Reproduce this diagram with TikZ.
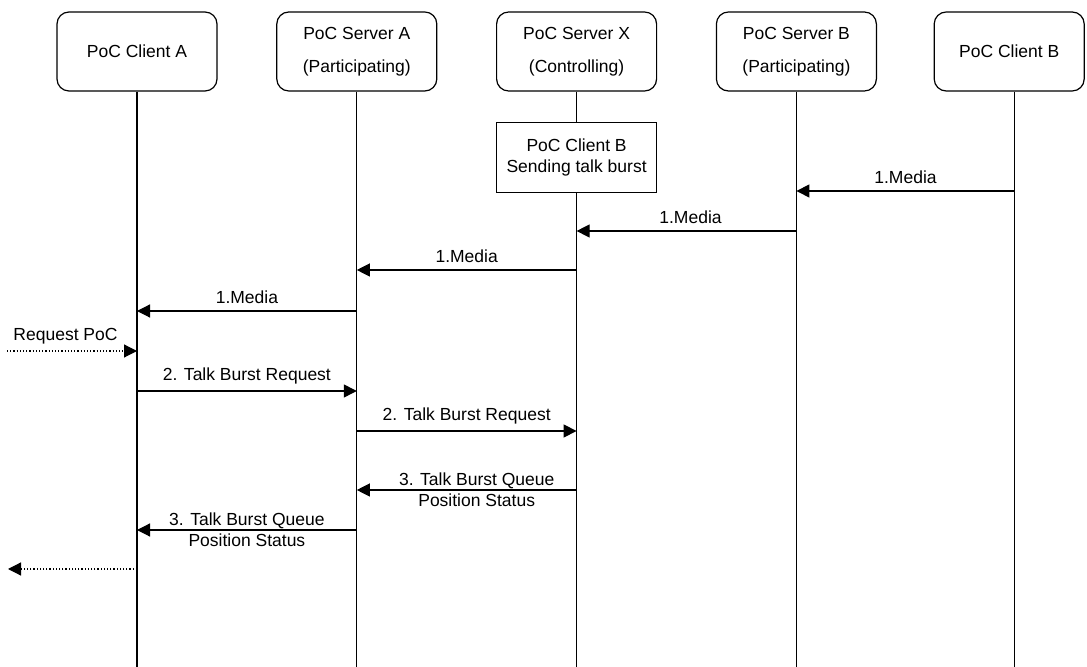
\documentclass[tikz,border=0pt]{standalone}
\usepackage{fontspec}
\setmainfont{Liberation Sans}
\usepackage{tikz}
\usetikzlibrary{positioning, arrows.meta}

\begin{document}
\begin{tikzpicture}[
  x=0.5pt, y=-0.5pt,
  every node/.style={font=\fontsize{8.75}{10.5}\selectfont},
  hdr/.style={rectangle, rounded corners=6pt, draw, line width=0.6pt,
              align=center, minimum width=80pt, minimum height=39.5pt},
  note/.style={rectangle, draw, line width=0.6pt, align=center,
               minimum width=80pt, minimum height=35pt},
  life/.style={line width=0.6pt},
  msg/.style={line width=0.6pt, -{Triangle[length=6.5pt, width=6.5pt]}},
  dotmsg/.style={msg, densely dotted}
]
  \useasboundingbox (0,0) rectangle (1087,667);

  % entities
  \node[hdr] (cliA) at (137,51.5) {PoC Client A};
  \node[hdr, right=29.3pt of cliA] (srvA) {PoC Server A\\[6pt](Participating)};
  \node[hdr, right=29.3pt of srvA] (srvX) {PoC Server X\\[6pt](Controlling)};
  \node[hdr, right=29.3pt of srvX] (srvB) {PoC Server B\\[6pt](Participating)};
  \node[hdr, right=28.3pt of srvB, minimum width=75pt] (cliB) {PoC Client B};
  \coordinate (cliBl) at ([xshift=2.7pt]cliB.south);

  \node[note, below=15pt of srvX] (burst) {PoC Client B\\Sending talk burst};

  % lifelines
  \coordinate (bot) at (0,667);
  \draw[life] (cliA.south) -- (cliA |- bot);
  \draw[life] (srvA.south) -- (srvA |- bot);
  \draw[life] (srvX.south) -- (burst.north);
  \draw[life] (burst.south) -- (srvX |- bot);
  \draw[life] (srvB.south) -- (srvB |- bot);
  \draw[life] (cliBl) -- (cliBl |- bot);

  % media
  \draw[msg] (cliBl |- 0,191) -- (srvB |- 0,191)
    node[midway, above] {1.Media};
  \draw[msg] (srvB |- 0,231) -- (srvX |- 0,231)
    node[midway, above, xshift=2pt] {1.Media};
  \draw[msg] (srvX |- 0,270) -- (srvA |- 0,270)
    node[midway, above] {1.Media};
  \draw[msg] (srvA |- 0,311) -- (cliA |- 0,311)
    node[midway, above] {1.Media};

  % talk burst request
  \coordinate (req) at (7,351);
  \draw[dotmsg] (req) -- (cliA |- req)
    node[pos=0.45, above] {Request PoC};
  \draw[msg] (cliA |- 0,391) -- (srvA |- 0,391)
    node[midway, above] {2. Talk Burst Request};
  \draw[msg] (srvA |- 0,431) -- (srvX |- 0,431)
    node[midway, above] {2. Talk Burst Request};

  % queue position
  \draw[msg] (srvX |- 0,490) -- (srvA |- 0,490)
    node[midway, xshift=5pt, align=center] {3. Talk Burst Queue\\Position Status};
  \draw[msg] (srvA |- 0,530) -- (cliA |- 0,530)
    node[midway, align=center] {3. Talk Burst Queue\\Position Status};
  \coordinate (ret) at (8,569);
  \draw[dotmsg] (cliA |- ret) -- (ret);
\end{tikzpicture}
\end{document}
